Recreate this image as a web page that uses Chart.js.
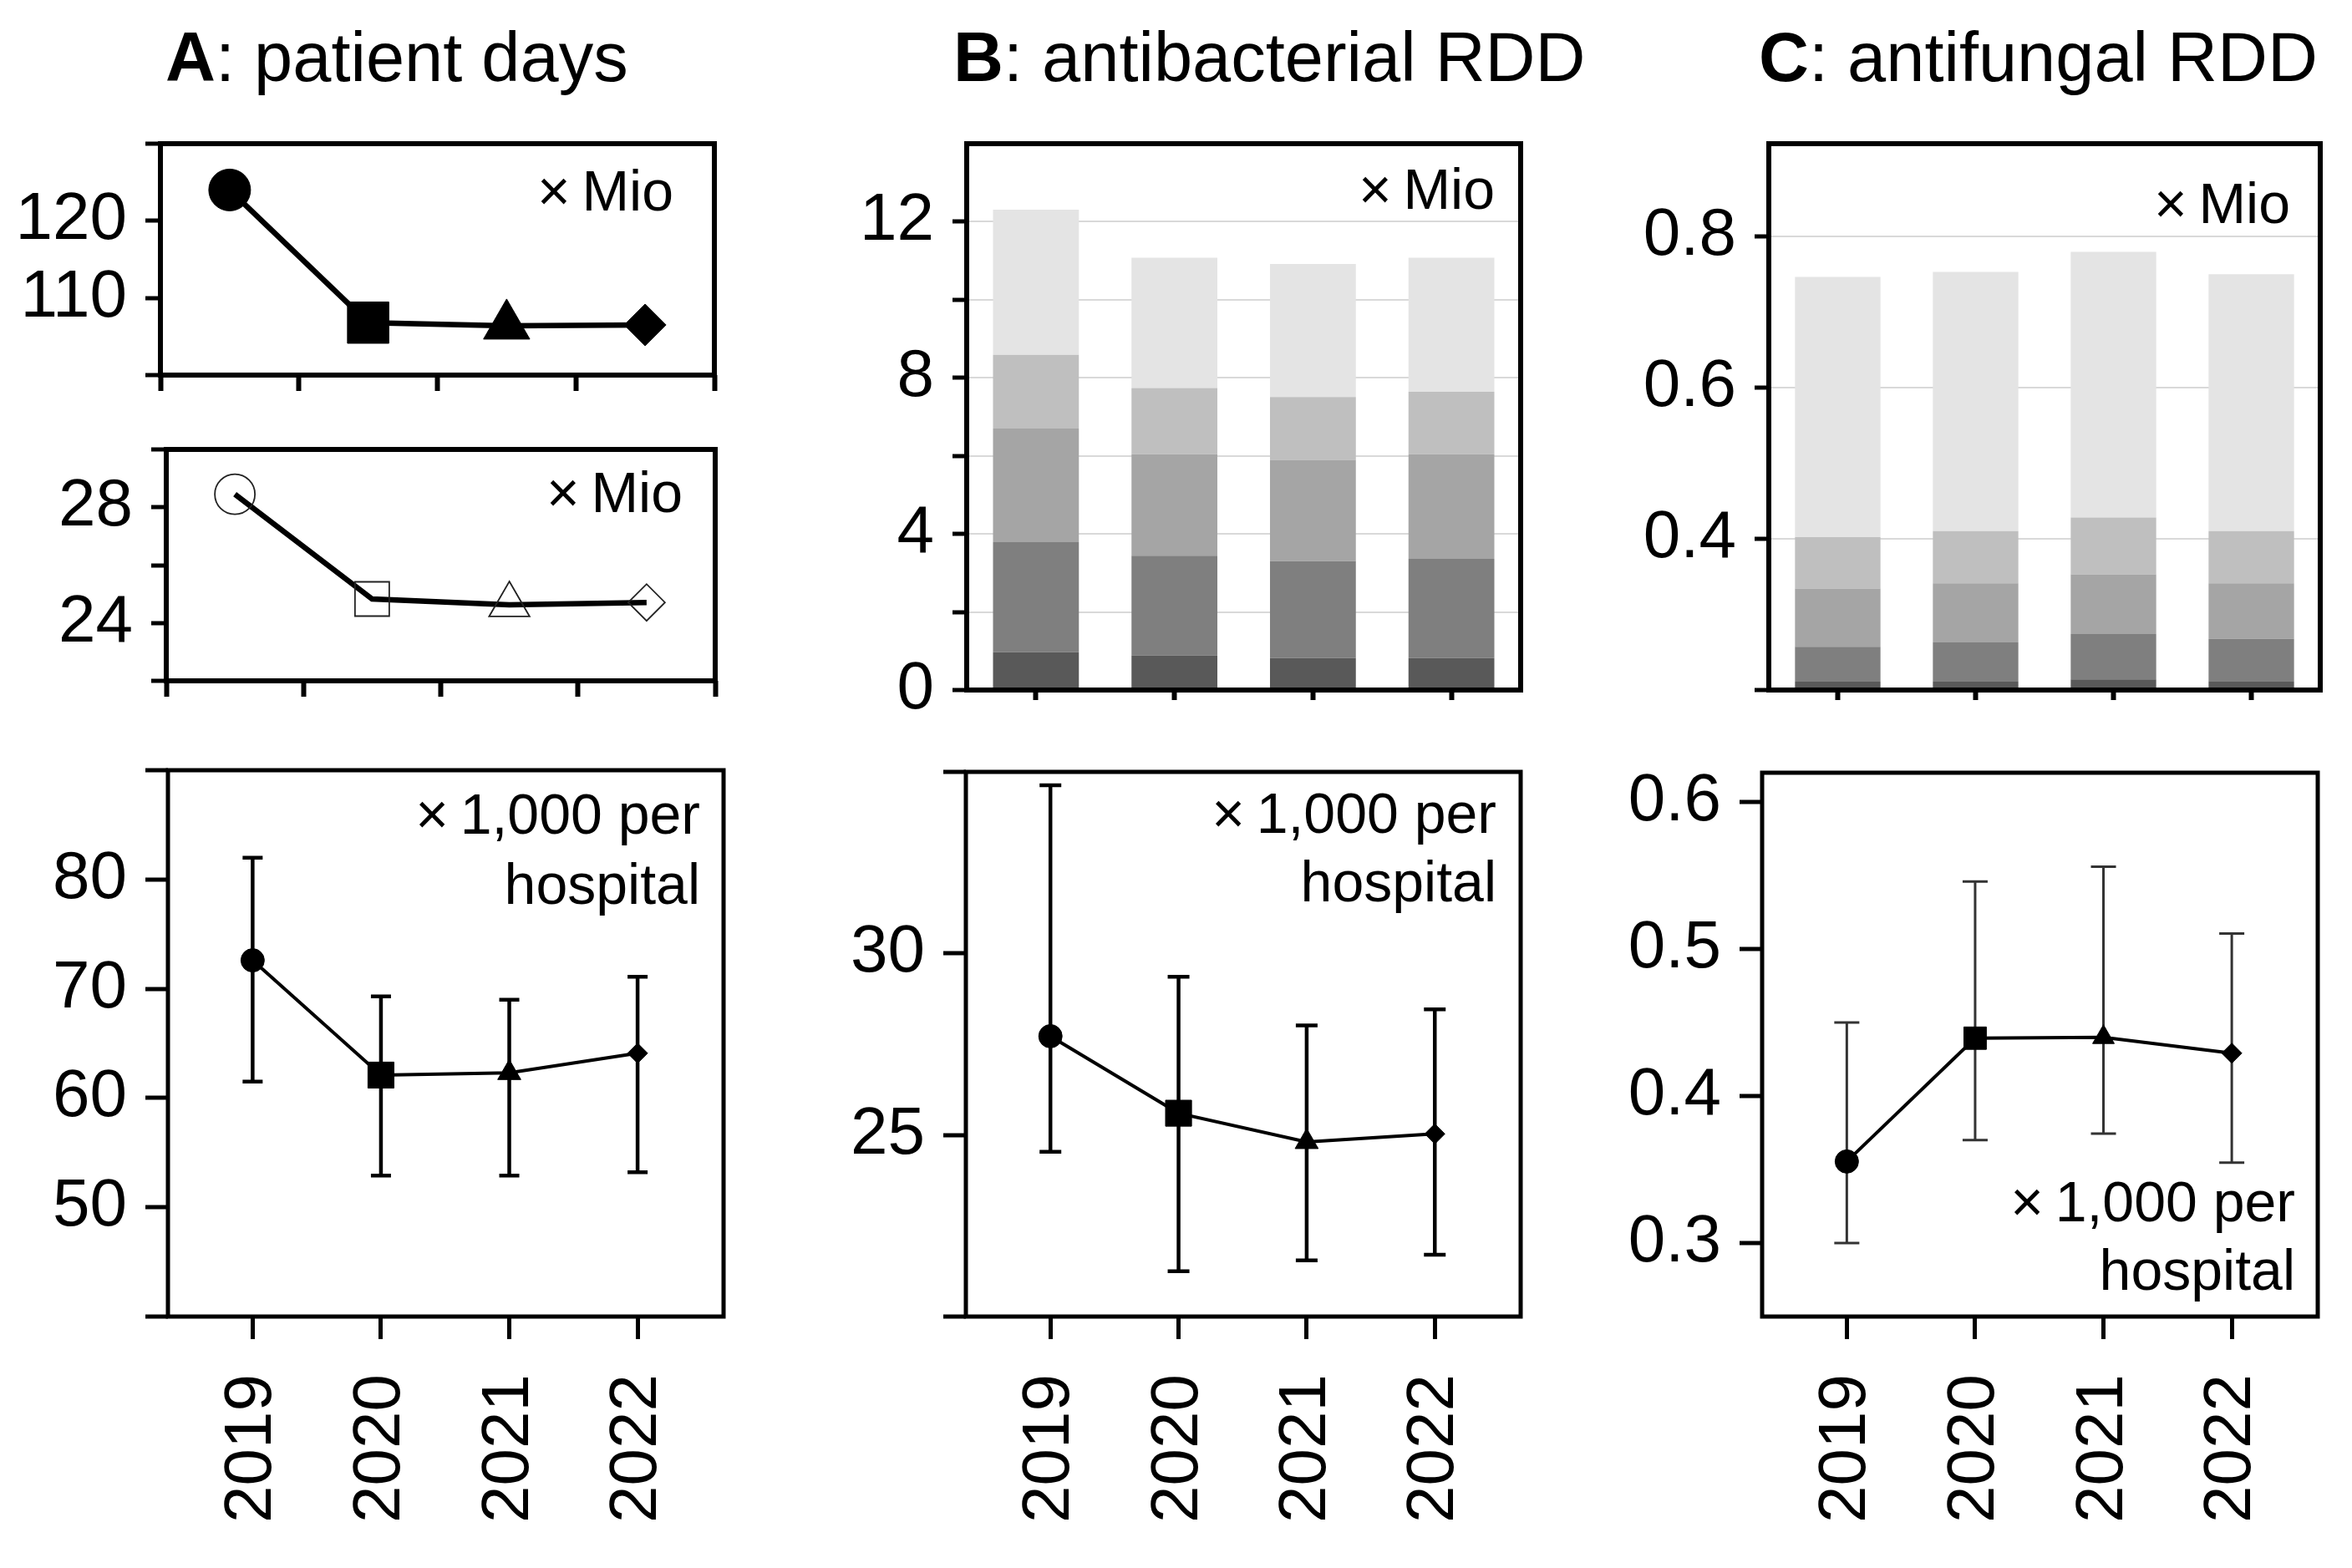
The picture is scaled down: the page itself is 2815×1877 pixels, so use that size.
<!DOCTYPE html>
<html>
<head>
<meta charset="utf-8">
<script src="https://cdn.jsdelivr.net/npm/chart.js@4.4.1/dist/chart.umd.min.js"></script>
<style>
body { margin:0; background:#fff; width:2815px; height:1877px; position:relative; overflow:hidden; font-family:"Liberation Sans", Arial, sans-serif; }
.panel { position:absolute; }
.title { position:absolute; top:27px; font-size:83px; line-height:83px; white-space:nowrap; color:#000; }
</style>
</head>
<body>
<div class="title" style="left:198px"><b>A</b>: patient days</div>
<div class="title" style="left:1141px"><b>B</b>: antibacterial RDD</div>
<div class="title" style="left:2105px"><b>C</b>: antifungal RDD</div>

<div class="panel" id="pA1"><canvas></canvas></div>
<div class="panel" id="pA2"><canvas></canvas></div>
<div class="panel" id="pA3"><canvas></canvas></div>
<div class="panel" id="pB1"><canvas></canvas></div>
<div class="panel" id="pB2"><canvas></canvas></div>
<div class="panel" id="pC1"><canvas></canvas></div>
<div class="panel" id="pC2"><canvas></canvas></div>

<script>
var years = ["2019", "2020", "2021", "2022"];

// A: patient days
var daysTotal = [124.0, 106.8, 106.4, 106.5];      // x Mio, filled markers
var daysSub = [28.45, 24.83, 24.63, 24.71];        // x Mio, open markers
var daysMean = [72.6, 62.1, 62.3, 64.1];           // x 1,000 per hospital
var daysLow = [61.5, 52.9, 52.9, 53.2];
var daysHigh = [82.0, 69.3, 69.0, 71.1];

// B: antibacterial RDD, stacked parts (bottom to top), x Mio
var abPart1 = [0.97, 0.89, 0.82, 0.82];
var abPart2 = [2.82, 2.55, 2.48, 2.54];
var abPart3 = [2.91, 2.60, 2.60, 2.68];
var abPart4 = [1.89, 1.70, 1.61, 1.60];
var abPart5 = [3.72, 3.34, 3.41, 3.44];
var abMean = [27.72, 25.60, 24.81, 25.03];
var abLow = [24.54, 21.25, 21.55, 21.70];
var abHigh = [34.63, 29.36, 28.02, 28.46];

// C: antifungal RDD, stacked parts (bottom to top), x Mio
var afPart1 = [0.211, 0.211, 0.214, 0.211];
var afPart2 = [0.046, 0.052, 0.060, 0.0565];
var afPart3 = [0.077, 0.078, 0.079, 0.0735];
var afPart4 = [0.068, 0.069, 0.075, 0.069];
var afPart5 = [0.344, 0.3425, 0.351, 0.3396];
var afMean = [0.3555, 0.4394, 0.440, 0.4292];
var afLow = [0.300, 0.370, 0.3745, 0.3547];
var afHigh = [0.450, 0.546, 0.556, 0.5106];

var greys = ['#595959', '#7f7f7f', '#a5a5a5', '#bfbfbf', '#e4e4e4'];
var shapes = ['circle', 'rect', 'triangle', 'rectRot'];

Chart.defaults.font.family = "'Liberation Sans', Arial, sans-serif";
Chart.defaults.font.size = 80;
Chart.defaults.color = '#000';

var PAD = 60, YW = 190;

// frame round the plot area + the small unit notes
Chart.register({
  id: 'frame',
  afterDraw: function(chart, args, opts) {
    var a = chart.chartArea, ctx = chart.ctx;
    ctx.save();
    ctx.strokeStyle = '#000';
    ctx.lineWidth = opts.width || 6;
    ctx.strokeRect(a.left, a.top, a.right - a.left, a.bottom - a.top);
    ctx.fillStyle = '#000';
    ctx.font = "68px 'Liberation Sans', Arial, sans-serif";
    ctx.textAlign = 'right';
    ctx.textBaseline = 'alphabetic';
    (opts.notes || []).forEach(function(n) {
      ctx.fillText(n[0], a.right - opts.noteRight, a.top + n[1]);
    });
    ctx.restore();
  }
});

// vertical error bars
Chart.register({
  id: 'errbars',
  beforeDatasetsDraw: function(chart, args, opts) {
    if (!opts.low) return;
    var xs = chart.scales.x, ys = chart.scales.y, ctx = chart.ctx;
    ctx.save();
    ctx.strokeStyle = opts.color;
    ctx.lineWidth = opts.width;
    for (var i = 0; i < opts.low.length; i++) {
      var x = xs.getPixelForValue(i);
      var y1 = ys.getPixelForValue(opts.low[i]);
      var y2 = ys.getPixelForValue(opts.high[i]);
      ctx.beginPath();
      ctx.moveTo(x, y1); ctx.lineTo(x, y2);
      ctx.moveTo(x - opts.cap, y1); ctx.lineTo(x + opts.cap, y1);
      ctx.moveTo(x - opts.cap, y2); ctx.lineTo(x + opts.cap, y2);
      ctx.stroke();
    }
    ctx.restore();
  }
});

function place(id, box, xh) {
  var el = document.getElementById(id);
  el.style.left = (box[0] - YW) + 'px';
  el.style.top = (box[1] - PAD) + 'px';
  el.style.width = (YW + box[2] - box[0] + PAD) + 'px';
  el.style.height = (PAD + box[3] - box[1] + xh) + 'px';
  return el.querySelector('canvas');
}

function baseOptions(plugins) {
  plugins.legend = { display: false };
  plugins.tooltip = { enabled: false };
  return {
    responsive: true, maintainAspectRatio: false, animation: false, devicePixelRatio: 1,
    layout: { padding: { top: PAD, right: PAD, left: 0, bottom: 0 } },
    plugins: plugins
  };
}

function yAxis(min, max, ticks, tickLen, label, gridColor) {
  return {
    min: min, max: max,
    afterBuildTicks: function(s) { s.ticks = ticks.map(function(v) { return { value: v }; }); },
    grid: { drawOnChartArea: !!gridColor, color: gridColor || '#000', lineWidth: 2, tickLength: tickLen, tickWidth: 5, tickColor: '#000' },
    border: { display: false },
    ticks: { autoSkip: false, padding: 22, callback: label },
    afterFit: function(s) { s.width = YW; }
  };
}

// ---------- A, top two: patient days in Mio ----------
function topLine(id, box, values, radii, filled, yMin, yMax, yTicks, labelFn, note) {
  var opts = baseOptions({ frame: { notes: [[note[0], note[1]]], noteRight: note[2] } });
  opts.scales = {
    x: {
      offset: true,
      grid: { offset: true, drawOnChartArea: false, tickLength: 19, tickWidth: 6, tickColor: '#000' },
      border: { display: false },
      ticks: { callback: function() { return ''; } },
      afterFit: function(s) { s.height = 70; }
    },
    y: yAxis(yMin, yMax, yTicks, 18, labelFn)
  };
  new Chart(place(id, box, 70), {
    type: 'line',
    data: {
      labels: years,
      datasets: [{
        data: values,
        borderColor: '#000', borderWidth: 6.5,
        pointStyle: shapes, pointRadius: radii,
        pointBackgroundColor: filled ? '#000' : 'rgba(0,0,0,0)',
        pointBorderColor: filled ? '#000' : '#222',
        pointBorderWidth: filled ? 1 : 1.8
      }]
    },
    options: opts
  });
}

topLine('pA1', [192, 162, 855, 449], daysTotal, [25, 35, 32, 25], true,
  100, 130, [100, 110, 120, 130],
  function(v) { return (v == 110 || v == 120) ? v : ''; }, ['×\u2009Mio', 80, 49]);

topLine('pA2', [199, 528, 856, 815], daysSub, [24, 29, 28, 22], false,
  22, 30, [22, 24, 26, 28, 30],
  function(v) { return (v == 24 || v == 28) ? v : ''; }, ['×\u2009Mio', 75, 39]);

// ---------- stacked bars (B and C, top) ----------
function topBars(id, box, parts, yMin, yMax, yTicks, labelFn, note) {
  var opts = baseOptions({ frame: { notes: [[note[0], note[1]]], noteRight: note[2] } });
  opts.scales = {
    x: {
      stacked: true,
      grid: { offset: false, drawOnChartArea: false, tickLength: 12, tickWidth: 6, tickColor: '#000' },
      border: { display: false },
      ticks: { callback: function() { return ''; } },
      afterFit: function(s) { s.height = 70; }
    },
    y: yAxis(yMin, yMax, yTicks, 17, labelFn, '#d9d9d9')
  };
  opts.scales.y.stacked = true;
  new Chart(place(id, box, 70), {
    type: 'bar',
    data: {
      labels: years,
      datasets: parts.map(function(p, i) {
        return { data: p, backgroundColor: greys[i], borderWidth: 0, barPercentage: 0.62, categoryPercentage: 1 };
      })
    },
    options: opts
  });
}

topBars('pB1', [1157, 162, 1820, 826], [abPart1, abPart2, abPart3, abPart4, abPart5],
  0, 14, [0, 2, 4, 6, 8, 10, 12],
  function(v) { return v % 4 === 0 ? v : ''; }, ['×\u2009Mio', 78, 31]);

topBars('pC1', [2117, 162, 2777, 826], [afPart1, afPart2, afPart3, afPart4, afPart5],
  0.2, 0.922, [0.2, 0.4, 0.6, 0.8],
  function(v) { return v > 0.3 ? v.toFixed(1) : ''; }, ['×\u2009Mio', 95, 36]);

// ---------- per hospital means with error bars ----------
function bottomLine(id, box, mean, low, high, radii, lw, err, yMin, yMax, yTicks, labelFn, notes, noteRight) {
  var opts = baseOptions({
    frame: { notes: notes, noteRight: noteRight, width: 5 },
    errbars: { low: low, high: high, color: err[0], width: err[1], cap: err[2] }
  });
  opts.scales = {
    x: {
      type: 'linear', min: -0.66, max: 3.67,
      afterBuildTicks: function(s) { s.ticks = years.map(function(y, i) { return { value: i }; }); },
      grid: { drawOnChartArea: false, tickLength: 27, tickWidth: 5, tickColor: '#000' },
      border: { display: false },
      ticks: { autoSkip: false, minRotation: 90, maxRotation: 90, padding: 42, callback: function(v) { return years[v]; } },
      afterFit: function(s) { s.height = 290; }
    },
    y: yAxis(yMin, yMax, yTicks, 27, labelFn)
  };
  new Chart(place(id, box, 290), {
    type: 'line',
    data: {
      datasets: [{
        data: mean.map(function(v, i) { return { x: i, y: v }; }),
        borderColor: '#000', borderWidth: lw,
        pointStyle: shapes, pointRadius: radii,
        pointBackgroundColor: '#000', pointBorderColor: '#000', pointBorderWidth: 1
      }]
    },
    options: opts
  });
}

bottomLine('pA3', [201, 912, 866, 1576], daysMean, daysLow, daysHigh, [14, 22, 16, 12], 4,
  ['#000', 4.5, 12], 40, 90, [40, 50, 60, 70, 80, 90],
  function(v) { return (v > 40 && v < 90) ? v : ''; },
  [['×\u20091,000 per', 76], ['hospital', 160]], 28);

bottomLine('pB2', [1156, 914, 1820, 1576], abMean, abLow, abHigh, [14, 22, 16, 12], 4,
  ['#000', 4.5, 13], 20, 35, [20, 25, 30, 35],
  function(v) { return (v == 25 || v == 30) ? v : ''; },
  [['×\u20091,000 per', 73], ['hospital', 155]], 29);

bottomLine('pC2', [2109, 915, 2774, 1576], afMean, afLow, afHigh, [14, 19, 15, 12], 4,
  ['#333', 3, 15], 0.25, 0.62, [0.3, 0.4, 0.5, 0.6],
  function(v) { return v.toFixed(1); },
  [['×\u20091,000 per', 537], ['hospital', 619]], 27);
</script>
</body>
</html>
